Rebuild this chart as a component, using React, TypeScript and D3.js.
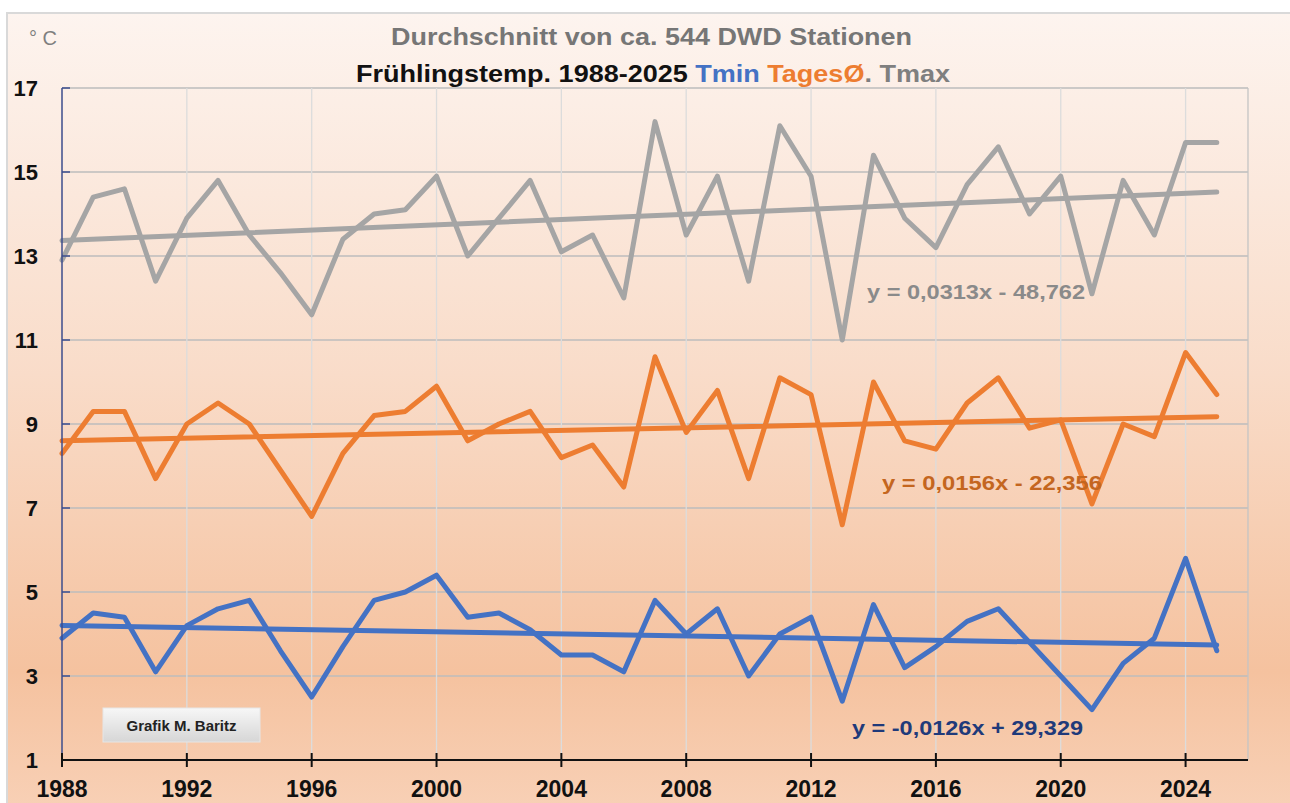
import React from "react";
import * as d3 from "d3";

const years = [1988,1989,1990,1991,1992,1993,1994,1995,1996,1997,1998,1999,2000,2001,2002,2003,2004,2005,2006,2007,2008,2009,2010,2011,2012,2013,2014,2015,2016,2017,2018,2019,2020,2021,2022,2023,2024,2025];
const tmax = [12.9,14.4,14.6,12.4,13.9,14.8,13.5,12.6,11.6,13.4,14.0,14.1,14.9,13.0,13.9,14.8,13.1,13.5,12.0,16.2,13.5,14.9,12.4,16.1,14.9,11.0,15.4,13.9,13.2,14.7,15.6,14.0,14.9,12.1,14.8,13.5,15.7,15.7];
const tmean = [8.3,9.3,9.3,7.7,9.0,9.5,9.0,7.9,6.8,8.3,9.2,9.3,9.9,8.6,9.0,9.3,8.2,8.5,7.5,10.6,8.8,9.8,7.7,10.1,9.7,6.6,10.0,8.6,8.4,9.5,10.1,8.9,9.1,7.1,9.0,8.7,10.7,9.7];
const tmin = [3.9,4.5,4.4,3.1,4.2,4.6,4.8,3.6,2.5,3.7,4.8,5.0,5.4,4.4,4.5,4.1,3.5,3.5,3.1,4.8,4.0,4.6,3.0,4.0,4.4,2.4,4.7,3.2,3.7,4.3,4.6,3.8,3.0,2.2,3.3,3.9,5.8,3.6];
const yTicks = [1,3,5,7,9,11,13,15,17];
const xTicks = [1988,1992,1996,2000,2004,2008,2012,2016,2020,2024];
const equations = ["y = 0,0313x - 48,762", "y = 0,0156x - 22,356", "y = -0,0126x + 29,329"];

const W = 1290, H = 803;
const L = 62, R = 1248, T = 88, B = 760;

function fit(xs: number[], ys: number[]) {
  const n = xs.length;
  const mx = d3.mean(xs) as number, my = d3.mean(ys) as number;
  let sxy = 0, sxx = 0;
  for (let i = 0; i < n; i++) { sxy += (xs[i]-mx)*(ys[i]-my); sxx += (xs[i]-mx)**2; }
  const a = sxy/sxx; const b = my - a*mx;
  return (x: number) => a*x + b;
}

export default function App() {
  const x = d3.scaleLinear().domain([1988, 2026]).range([L, R]);
  const y = d3.scaleLinear().domain([1, 17]).range([B, T]);
  const line = d3.line<number>().x((_, i) => x(years[i])).y(d => y(d));
  const series = [
    { v: tmin, c: "#4472C4" },
    { v: tmean, c: "#ED7D31" },
    { v: tmax, c: "#A5A5A5" },
  ];
  const font = "'Liberation Sans', Arial, sans-serif";
  const first = years[0], last = years[years.length-1];
  return (
    <svg width={W} height={H} style={{ position: "absolute", left: 0, top: 0, background: "#fff" }}>
      <defs>
        <linearGradient id="bg" x1="0" y1="0" x2="0" y2="1">
          <stop offset="0" stopColor="#fdf4ef" />
          <stop offset="0.45" stopColor="#f9dcc9" />
          <stop offset="0.82" stopColor="#f5c29f" />
          <stop offset="1" stopColor="#f8d1b7" />
        </linearGradient>
        <linearGradient id="box" x1="0" y1="0" x2="0" y2="1">
          <stop offset="0" stopColor="#f7f7f7" />
          <stop offset="1" stopColor="#d6d6d6" />
        </linearGradient>
      </defs>
      <rect x={7} y={13} width={W} height={H} fill="url(#bg)" stroke="#d9d9d9" strokeWidth={2} />
      {yTicks.map(t => (
        <line key={"gy"+t} x1={L} x2={R} y1={y(t)} y2={y(t)} stroke="#bcbcbc" strokeWidth={1.3} />
      ))}
      {xTicks.slice(1).map(t => (
        <line key={"gx"+t} x1={x(t)} x2={x(t)} y1={T} y2={B} stroke="#dcdcdc" strokeWidth={1.3} />
      ))}
      <line x1={R} x2={R} y1={T} y2={B} stroke="#c4c4c4" strokeWidth={1.3} />
      {series.map((s, i) => (
        <path key={"s"+i} d={line(s.v) as string} fill="none" stroke={s.c} strokeWidth={5} strokeLinejoin="round" strokeLinecap="round" />
      ))}
      {series.map((s, i) => {
        const f = fit(years, s.v);
        return <line key={"t"+i} x1={x(first)} x2={x(last)} y1={y(f(first))} y2={y(f(last))} stroke={s.c} strokeWidth={5} strokeLinecap="round" />;
      })}
      <line x1={L} x2={L} y1={T} y2={B} stroke="#3d4d8c" strokeWidth={1.5} />
      {yTicks.map(t => (
        <line key={"yt"+t} x1={L} x2={L+8} y1={y(t)} y2={y(t)} stroke="#3d4d8c" strokeWidth={1.5} />
      ))}
      <line x1={L} x2={R} y1={B} y2={B} stroke="#111" strokeWidth={2} />
      {xTicks.map(t => (
        <line key={"xt"+t} x1={x(t)} x2={x(t)} y1={B-7} y2={B+7} stroke="#111" strokeWidth={2} />
      ))}
      {yTicks.map(t => (
        <text key={"yl"+t} x={38} y={y(t)} dy="0.35em" textAnchor="end" fontFamily={font} fontWeight="bold" fontSize={22} fill="#111">{t}</text>
      ))}
      {xTicks.map(t => (
        <text key={"xl"+t} x={x(t)} y={797} textAnchor="middle" fontFamily={font} fontWeight="bold" fontSize={23} fill="#111">{t}</text>
      ))}
      <text x={29} y={45} fontFamily={font} fontSize={20} fill="#7f7f7f">° C</text>
      <text x={391} y={45} textLength={521} lengthAdjust="spacingAndGlyphs" fontFamily={font} fontWeight="bold" fontSize={24} fill="#767676">Durchschnitt von ca. 544 DWD Stationen</text>
      <text x={356} y={82} textLength={594} lengthAdjust="spacingAndGlyphs" fontFamily={font} fontWeight="bold" fontSize={24} fill="#111">
        Frühlingstemp. 1988-2025 <tspan fill="#4472C4">Tmin</tspan> <tspan fill="#ED7D31">TagesØ</tspan><tspan fill="#7f7f7f">. Tmax</tspan>
      </text>
      <text x={867} y={299} textLength={218} lengthAdjust="spacingAndGlyphs" fontFamily={font} fontWeight="bold" fontSize={20} fill="#8a8a8a">{equations[0]}</text>
      <text x={882} y={490} textLength={220} lengthAdjust="spacingAndGlyphs" fontFamily={font} fontWeight="bold" fontSize={20} fill="#c4661f">{equations[1]}</text>
      <text x={852} y={735} textLength={231} lengthAdjust="spacingAndGlyphs" fontFamily={font} fontWeight="bold" fontSize={20} fill="#1f3a7a">{equations[2]}</text>
      <rect x={103} y={708} width={157} height={34} fill="url(#box)" stroke="#e6e6e6" strokeWidth={1} />
      <text x={181.5} y={731} textAnchor="middle" fontFamily={font} fontWeight="bold" fontSize={15} fill="#222">Grafik M. Baritz</text>
    </svg>
  );
}
